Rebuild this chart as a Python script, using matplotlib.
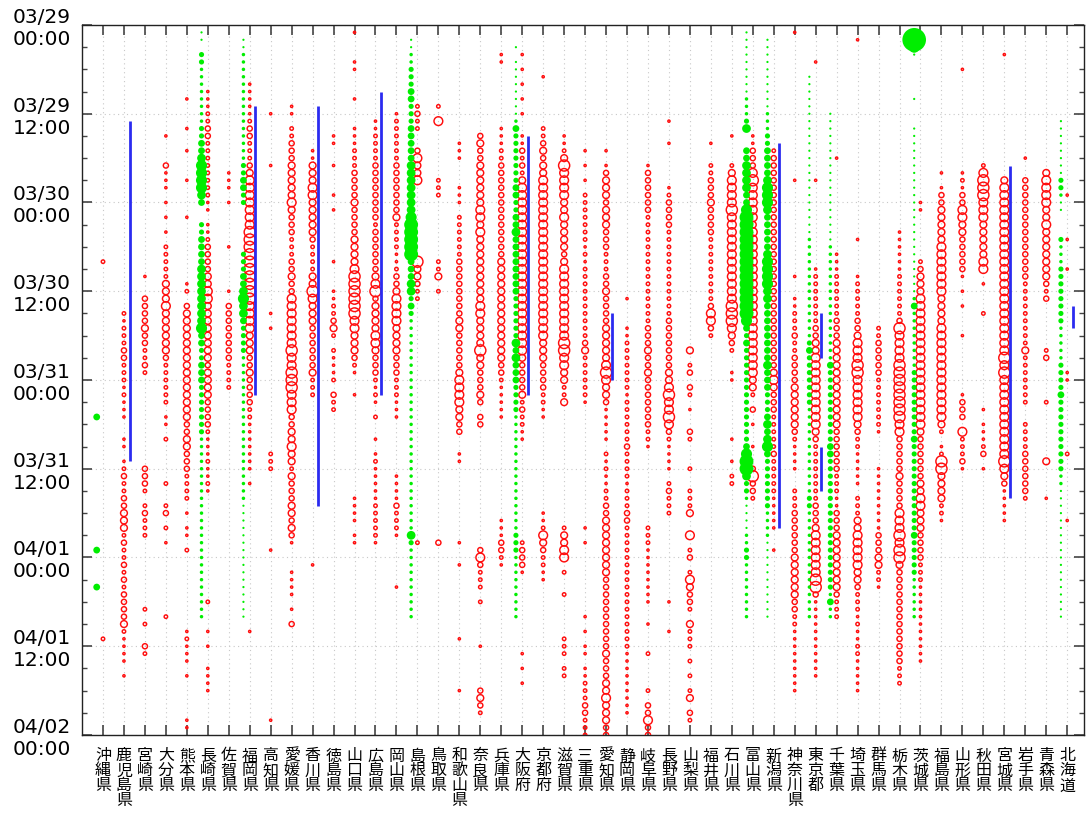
import matplotlib
matplotlib.use('Agg')
import matplotlib.pyplot as plt
import numpy as np

# prefectures along the x axis
prefectures = ["沖縄県", "鹿児島県", "宮崎県", "大分県", "熊本県", "長崎県", "佐賀県", "福岡県",
               "高知県", "愛媛県", "香川県", "徳島県", "山口県", "広島県", "岡山県", "島根県",
               "鳥取県", "和歌山県", "奈良県", "兵庫県", "大阪府", "京都府", "滋賀県", "三重県",
               "愛知県", "静岡県", "岐阜県", "長野県", "山梨県", "福井県", "石川県", "富山県",
               "新潟県", "神奈川県", "東京都", "千葉県", "埼玉県", "群馬県", "栃木県", "茨城県",
               "福島県", "山形県", "秋田県", "宮城県", "岩手県", "青森県", "北海道"]

# red circles: "start_hour:levels" segments, one char per hour ('.' = nothing)
red_spec = [
    "32:2 83:2",
    "39:212223322212111 56:11 59:123223344423223232333342 83:1111 88:1",
    "34:1 37:33334332232 60:3332.23222 79:2 81:2 84:32",
    "15:1 19:3111.1.1.1.2222244454444443222222 53:11 56:2 62:2 65:23.2.1 80:2",
    "10:1 14:1 17:1 21:1 26:1 35:12.344444444444444433443332222 66:1 68:11 71:2 82:12111 88:1 94:11",
    "9:11122332222222211.1123333445544444444344443333211121121 78:2 82:1 84:1 87:1111",
    "20:111.1 30:1 36:1.333333332222",
    "8:11111233222345555555666666666655554443343333221111111.1 82:1",
    "12:1 19:1 39:1 41:1 58:222 71:1 94:1",
    "11:11.22333" "44444" "5" "4" "333" "222" "33" "4" "33" "5555555" "6" "55" "6"
    "66555334454424333443431 74:1111 79:1 81:3",
    "17:11" "444" "55" "44444" "3" "2222" "44" "6" "5" "444" "333333" "4" "222" " 73:1",
    "15:11 19:1 23:1 25:1 32:1 36:1122342.2111 48:2.322",
    "1:1 5:11 10:1 14:111" "222" "3333" "4" "3333" "4444" "5" "666666" "55" "444" "3" "2" "1"
    " 50:1 64:1111.11",
    "13:11" "2222" "33333333" "2" "333333" "4" "5" "6" "3" "4444" "55" "4" "333" "2" "1" "2" "1"
    ".2..1." "1211111222221",
    "12:1" "222222" "3333333" "4" "2222" "11" "2" "33" "4" "5555" "4444" "333" "222" "111"
    " 61:111132221 76:1",
    "11:2322..35445 32:644322 70:2",
    "11:2.5 21:222 32:224.2 70:3",
    "16:111...111." "222222" "33333333" "44" "33333" "4" "5555" "44" "33" " 58:11 70:1 73:1 83:1 90:1",
    "15:3" "4" "33" "444444" "55" "4" "5" "444444444" "55" "4444" "6" "44" "333" "4" "3" "." "33"
    " 71:353222.2 84:1 90:3432",
    "4:11 14:111" "22" "3333333333333" "44444444444444" "33" "2" "11111" " 67:1113321",
    "4:1.1.1.1.1 15:1132324" "55555555555555555555555" "433334232211" " 70:23331 85:1.1.1",
    "7:1 14:2234344" "5555555555555555555555" "44433332211" " 66:1125432211",
    "15:11" "2" "4" "6" "5555" "44" "5" "4444" "3" "4" "5555555555" "66" "55" "44" "22" "4"
    " 68:24455.2..2 83:222.22",
    "17:1.1.1." "2222222" "1" "2" "1" "2222222222" "3" "4" "222" "222" "1" " 68:1.1 80:1.1.11.1122233222",
    "17:1.13" "444" "3" "444" "333" "222" "33" "4" "3333" "44444" "5" "6" "5" "44" "3" "11111" "."
    "2" "1" "2" "11" "22" "33" "44444444" "3333333333" "4" "333" "44" "5" "444" "33",
    "37:1...11" "2222222" "1" "222222" "3" "2222" "1" "222" "33" "22222222222222222" "111111111",
    "19:1" "333333" "222222222222222" "333" "4" "33" "4" "3333333" "22" "1"
    " 68:22211111111 81:1 85:2 90:2.33533",
    "13:1..1 22:1" "2" "3333" "222222222222" "3333333" "4" "4" "5" "6" "55" "6" "5" "3" "2" "1111"
    "." "2" "3" "222" " 78:1 82:1",
    "44:4.23.32.1..32...2..2224..5.23.254332.4222.2.2.24.32",
    "16:1..22333" "4" "3333" "222222222" "3" "55" "3" "2",
    "15:1...2" "4" "5555" "6" "555555555555" "666" "5" "4" "3" "2" " 47:11 56:1 59:1.22",
    "15:11333" "5" "6" "55555" "4" "55555555555555555555" "44" "2" ".3.1..1..3" "6" "33" "2",
    "17:2" "33333333333333333333333333333" "4" "5" "4" "333" "22222" "3" "22222" "11111" " 71:1",
    "1:1 21:1 34:1..11" "222" "3" "22" "3333" "444444" "3" "2" "1111" " 63:222" "333333" "444444"
    "33" "22" "111111111",
    "5:1 21:1 33:1" "2222222" "33" "44" "5555555555" "4" "3" "22222222" "333" "4" "555555" "66" "3"
    "11111111111",
    "18:1 31:111" "222222" "333" "444444444444" "333333" "222" "11" "333" "44444444" "3" "222",
    "2:1 29:1 34:1" "22222" "33" "4" "555" "66" "555555" "4" "3" "22" "11111" "." "222" "44" "55555"
    "44" "3" "222" "1" "2" "11" "22" "11111",
    "41:22" "33333" "2222222" "1" " 60:111111111" "333" "44" "22" "1",
    "28:111111" "222222" "3" "6" "5555" "6" "6666666" "55" "33333" "4" "3333" "555" "6" "5" "66" "4"
    "3333333333333" "222",
    "24:11 32:2" "3" "444" "555555555555555555" "4" "333333" "44" "55" "444" "3333" "222" "11111111111",
    "20:1.1" "33" "44444" "5555555" "4444" "5555555555555" "4" "2" ".1" "2" "66" "4444" "22" "1",
    "6:1 20:121335544333331 36:1 38:1 42:1 50:1333.522231",
    "19:256665554444455 35:1 39:2 52:1.11123.1",
    "4:1 21:4" "55555555555555555555555" "6" "5" "6" "55555555555" "6" "5" "4" "3" "11111",
    "18:1..33333333333333" "222222222" "4" "2222222" "..2222" "333333" "2",
    "20:4" "5555" "44" "5" "4444444" "3" "2" "3" " 44:23 51:2 59:4 64:1",
    "23:1 29:1 33:1 47:11 58:2 67:1",
]

# green dots, same encoding
green_spec = [
    "53:4 71:4 76:4",
    "", "", "", "",
    "1:11.332222222233445666654 27:33444455555555644334443333333" "2222222222222222222222222",
    "",
    "2:11" "222222222222222" "334433" " 31:33344565543333222" "22222222222222222" "1111111111111111",
    "", "", "", "", "", "", "",
    "2:11" "22" "333" "44" "333" "44444" "5555555" "6" "77777" "444" "55" "3" "4" "3"
    "22222222222222222222222222222" "53" "2222222222",
    "", "", "", "",
    "3:1.11111111" "2" "4" "3333333" "44" "33" "44" "5" "44444444" "333333" "5" "4" "5" "444" "3333"
    "2222222222222222" "333" "222222222",
    "", "", "", "", "", "", "", "", "", "",
    "1:111111111" "222" "3" "5" ".." "44" "5555" "44" "6" "77777777777777" "6" "4" "3" "4"
    "3333333333333" "4" "6" "7" "7" "5" "33" "2" "1111" "22" "33" "22222222",
    "2:1111111111" "222" "33" "4444" "5" "666" "5" "44444" "5" "6666" "55" "44444444" "5" "444" "333"
    "4" "5" "4" "5" "6" "4" "3333333" "2222" "11111111111",
    "",
    "7:1111111111111111111111" "22222222222222" "3" "4" "3333333" "222222222222" "33"
    "222222222222222",
    "12:111111111111111111" "2222222222222222" "4" "3333333333" "44" "333333333333333333" "2" "4" "22",
    "", "", "",
    "2:961.....1..." "11111111111111111111111" "2" "4" "22222222" "333333333" "4" "333333333333" "4"
    "33333" "222222",
    "", "", "", "", "", "",
    "13:11111111" "33" "2" "11" "..." "3" "222" "33333333" "22222" "3333" "4" "3333333333" "22"
    "111111111111111111",
]

# blue bars: prefecture number (1-based), start hour, end hour
blue_pref = [2, 8, 11, 14, 21, 25, 33, 35, 35, 44, 47]
blue_start = [13, 11, 11, 9, 15, 39, 16, 39, 57, 19, 38]
blue_end = [59, 50, 65, 50, 50, 48, 68, 45, 63, 64, 41]

time_labels = ["03/29\n00:00", "03/29\n12:00", "03/30\n00:00", "03/30\n12:00", "03/31\n00:00",
               "03/31\n12:00", "04/01\n00:00", "04/01\n12:00", "04/02\n00:00"]

# marker diameter in points for each size level
level_pt = {1: 1.6, 2: 2.5, 3: 3.7, 4: 4.9, 5: 6.3, 6: 8.0, 7: 10.0, 9: 17.0}


def parse(spec):
    hrs, lv = [], []
    for seg in spec.split():
        start, vals = seg.split(':')
        for k, c in enumerate(vals):
            if c != '.':
                hrs.append(int(start) + k)
                lv.append(int(c))
    return hrs, lv


fig = plt.figure(figsize=(10.88, 8.25), dpi=100)
ax = fig.add_axes([0.0754, 0.1091, 0.9209, 0.8606])

for i in range(len(prefectures)):
    x = i + 1
    hrs, lv = parse(red_spec[i])
    if hrs:
        ax.scatter(np.full(len(hrs), x), hrs, s=[level_pt[l] ** 2 for l in lv],
                   facecolors='none', edgecolors='#ff0d0d', linewidths=1.05, zorder=3)
    hrs, lv = parse(green_spec[i])
    if hrs:
        ax.scatter(np.full(len(hrs), x - 0.3), hrs, s=[level_pt[l] ** 2 for l in lv],
                   color='#00ee00', linewidths=0, zorder=4)

for p, a, b in zip(blue_pref, blue_start, blue_end):
    ax.vlines(p + 0.27, a, b, color='#2b2bf0', linewidth=2.0, zorder=5)

ax.set_xlim(0, 47.8)
ax.set_ylim(96, 0)
ax.set_xticks(range(1, len(prefectures) + 1))
ax.set_xticklabels(["\n".join(p) for p in prefectures], fontsize=11.5,
                   family=['Noto Sans CJK JP', 'DejaVu Sans'], linespacing=0.84, va='top')
ax.set_yticks(range(0, 97, 12))
ax.set_yticks(range(0, 97, 3), minor=True)
ax.set_yticklabels(time_labels, fontsize=14.5, multialignment='center')

ax.grid(True, which='major', color='#c8c8c8', linestyle=(0, (1, 3)), linewidth=0.8)
ax.tick_params(which='major', direction='in', length=7, width=1.2, color='#444444',
               top=True, right=True, pad=8)
ax.tick_params(axis='x', which='major', pad=9)
ax.tick_params(which='minor', direction='in', length=3.5, width=1.0, color='#444444',
               right=True, left=True)
ax.tick_params(axis='x', which='minor', bottom=False, top=False)
for s in ax.spines.values():
    s.set_linewidth(1.0)
    s.set_color('#222222')

fig.savefig('out.png', dpi=100)
